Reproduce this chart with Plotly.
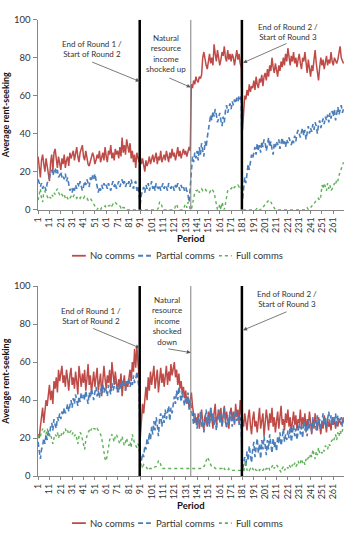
import plotly.graph_objects as go

# ---------------- data ----------------
periods = list(range(1, 271))
tick_vals = list(range(1, 270, 10))
tick_text = [str(v) for v in tick_vals]
round_ends = [90.5, 180.5]
shock_period = 135.5
series_names = ["No comms", "Partial comms", "Full comms"]

top_no_comms = [
    28, 22, 17, 26, 29, 24, 20, 27, 23, 18,
    15, 25, 29, 20, 30, 32, 26, 22, 28, 25,
    21, 27, 24, 29, 22, 26, 28, 23, 30, 27,
    29, 31, 26, 30, 33, 28, 25, 30, 32, 34,
    28, 26, 31, 27, 24, 23, 25, 27, 30, 28,
    24, 26, 29, 27, 31, 25, 28, 30, 26, 33,
    28, 25, 31, 29, 34, 27, 30, 26, 32, 29,
    31, 27, 33, 28, 38, 30, 34, 29, 37, 33,
    30, 35, 27, 31, 25, 29, 22, 30, 27, 25,
    28, 24, 27, 22, 20, 26, 23, 25, 28, 24,
    26, 29, 25, 27, 30, 24, 28, 26, 31, 25,
    27, 29, 26, 31, 28, 25, 30, 27, 32, 28,
    30, 26, 29, 33, 28, 31, 27, 30, 32, 29,
    31, 28, 30, 33, 31,
    66, 64, 68, 66, 70,
    68, 67, 70, 69, 71, 80, 83, 78, 76, 74,
    79, 82, 77, 80, 76, 87, 82, 78, 84, 80,
    76, 79, 83, 81, 86, 80, 78, 84, 79, 82,
    78, 82, 80, 76, 81, 84, 79, 82, 77, 75,
    42, 55, 60, 58, 63, 60, 66, 62, 65, 64,
    68, 63, 70, 66, 64, 69, 67, 71, 65, 70,
    72, 68, 74, 70, 76, 73, 80, 75, 72, 77,
    74, 70, 76, 73, 78, 75, 80, 76, 82, 78,
    85, 79, 76, 81, 78, 83, 77, 80, 75, 79,
    82, 77, 74, 80, 78, 83, 76, 72, 79, 75,
    70, 76, 73, 79, 84, 77, 73, 68, 75, 80,
    76, 79, 74, 78, 81, 76, 79, 77, 83, 78,
    76, 80, 78, 77, 79, 82, 86, 80, 78, 77,
]

top_partial_comms = [
    16, 13, 12, 14, 11, 13, 12, 10, 14, 15,
    17, 19, 21, 18, 20, 22, 19, 21, 17, 18,
    20, 17, 18, 16, 19, 15, 17, 12, 10, 11,
    9, 12, 10, 13, 11, 14, 12, 15, 13, 10,
    12, 15, 13, 16, 14, 12, 17, 15, 18, 16,
    19, 15, 11, 9, 12, 10, 13, 11, 14, 12,
    13, 11, 14, 12, 10, 13, 15, 12, 14, 11,
    13, 15, 12, 14, 16, 13, 15, 12, 14, 13,
    15, 12, 16, 13, 11, 14, 15, 10, 12, 8,
    3, 8, 10, 12, 9, 13, 11, 14, 10, 12,
    15, 11, 13, 10, 14, 12, 11, 13, 10, 12,
    14, 11, 13, 12, 10, 14, 12, 11, 13, 12,
    10, 13, 11, 14, 12, 10, 13, 11, 12, 10,
    12, 10, 8, 4, 12,
    24, 28, 25, 30, 27,
    31, 26, 33, 29, 35, 31, 28, 36, 33, 38,
    42, 46, 50, 47, 52, 49, 53, 50, 46, 48,
    51, 47, 44, 49, 46, 52, 55, 51, 54, 56,
    53, 57, 55, 58, 56, 59, 57, 60, 58, 60,
    5, 12, 17, 14, 20, 24, 21, 26, 29, 27,
    30, 33, 29, 35, 31, 34, 30, 36, 33, 37,
    35, 31, 34, 38, 33, 36, 32, 29, 35, 33,
    36, 34, 37, 32, 35, 38, 34, 36, 33, 37,
    35, 38, 36, 34, 37, 35, 39, 36, 40, 42,
    40, 38, 41, 43, 39, 42, 37, 41, 44, 40,
    43, 41, 45, 42, 46, 44, 40, 45, 47, 43,
    46, 48, 45, 49, 47, 50, 46, 51, 48, 52,
    49, 53, 47, 51, 54, 50, 52, 55, 51, 53,
]

top_full_comms = [
    5, 8, 11, 6, 4, 9, 10, 8, 7, 6,
    7, 6, 8, 7, 9, 8, 10, 11, 9, 8,
    9, 8, 7, 8, 6, 7, 6, 5, 6, 7,
    6, 7, 8, 7, 6, 7, 7, 6, 7, 6,
    6, 7, 6, 6, 5, 6, 6, 5, 4, 3,
    2, 1, 0, 1, 0, 0, 1, 1, 1, 2,
    1, 2, 2, 2, 3, 2, 3, 3, 4, 3,
    3, 2, 2, 1, 2, 1, 1, 1, 0, 0,
    0, 0, 0, 0, 0, 0, 0, 0, 0, 0,
    0, 0, 0, 0, 0, 0, 0, 0, 0, 0,
    0, 0, 0, 0, 0, 0, 1, 4, 4, 1,
    0, 0, 0, 0, 0, 0, 0, 0, 0, 0,
    0, 2, 3, 1, 0, 0, 0, 0, 0, 2,
    3, 1, 4, 3, 0,
    0, 3, 6, 9, 10,
    10, 11, 9, 10, 11, 10, 10, 11, 10, 10,
    10, 9, 10, 11, 10, 9, 6, 2, 0, 0,
    3, 0, 4, 2, 0, 3, 7, 10, 10, 11,
    11, 12, 11, 12, 12, 12, 13, 12, 13, 12,
    0, 0, 0, 0, 0, 0, 0, 0, 0, 0,
    0, 0, 0, 1, 0, 0, 0, 1, 1, 2,
    3, 4, 4, 5, 4, 4, 3, 2, 1, 0,
    0, 0, 0, 0, 0, 0, 0, 0, 0, 0,
    0, 0, 0, 0, 0, 0, 0, 0, 0, 0,
    0, 0, 0, 0, 0, 0, 0, 1, 0, 0,
    1, 2, 2, 3, 4, 5, 5, 6, 5, 7,
    13, 11, 14, 12, 10, 14, 11, 13, 10, 11,
    12, 14, 13, 16, 15, 18, 20, 21, 23, 25,
]

bottom_no_comms = [
    22, 20, 26, 30, 36, 28, 33, 40, 37, 44,
    48, 40, 45, 38, 50, 46, 52, 44, 56, 50,
    55, 58, 49, 53, 47, 56, 51, 45, 53, 57,
    48, 52, 46, 55, 50, 43, 58, 52, 47, 54,
    49, 56, 45, 51, 59, 48, 53, 44, 50, 55,
    47, 52, 57, 45, 50, 54, 42, 49, 58, 51,
    46, 53, 49, 56, 45, 60, 52, 48, 55, 50,
    44, 51, 47, 54, 42, 49, 53, 45, 50, 47,
    52, 56, 50, 60, 55, 67, 57, 68, 60, 52,
    20, 30, 38, 33, 42, 47, 40, 52, 45, 55,
    48, 53, 58, 46, 51, 56, 44, 50, 57, 49,
    54, 47, 52, 58, 48, 55, 50, 59, 53, 57,
    60, 52, 56, 48, 54, 46, 50, 43, 47, 41,
    45, 38, 42, 36, 40,
    44, 37, 33, 28, 31,
    27, 33, 25, 30, 35, 28, 24, 32, 29, 26,
    34, 28, 36, 30, 25, 33, 38, 27, 31, 35,
    29, 36, 26, 32, 37, 28, 34, 30, 25, 33,
    36, 29, 34, 27, 38, 31, 35, 28, 40, 33,
    30, 26, 33, 28, 24, 31, 35, 27, 22, 30,
    34, 26, 29, 23, 32, 36, 25, 28, 33, 21,
    27, 35, 30, 24, 33, 28, 36, 26, 31, 23,
    29, 34, 25, 32, 37, 27, 30, 24, 33, 28,
    35, 26, 31, 23, 29, 34, 27, 32, 24, 30,
    28, 35, 25, 31, 27, 33, 23, 30, 26, 34,
    28, 22, 30, 25, 33, 27, 24, 31, 26, 22,
    29, 25, 32, 27, 23, 30, 26, 28, 24, 31,
    27, 30, 25, 29, 26, 30, 28, 27, 29, 31,
]

bottom_partial_comms = [
    18, 12, 9, 14, 16, 20, 17, 22, 19, 24,
    21, 26, 28, 24, 30, 27, 25, 31, 29, 33,
    30, 34, 32, 36, 33, 35, 38, 34, 37, 40,
    36, 41, 38, 43, 40, 37, 42, 39, 44, 41,
    43, 40, 45, 42, 38, 44, 41, 46, 43, 40,
    44, 47, 42, 45, 41, 46, 43, 48, 44, 47,
    45, 42, 48, 46, 43, 49, 45, 47, 50, 46,
    48, 44, 49, 46, 51, 47, 49, 45, 50, 48,
    52, 47, 50, 48, 53, 49, 51, 55, 50, 46,
    4, 8, 12, 10, 16, 14, 20, 17, 23, 19,
    26, 22, 29, 24, 31, 27, 21, 30, 33, 26,
    32, 28, 35, 30, 34, 37, 29, 36, 33, 39,
    42, 38, 45, 40, 47, 43, 39, 44, 41, 37,
    42, 38, 44, 35, 40,
    36, 30, 27, 33, 29,
    25, 31, 28, 34, 26, 30, 23, 29, 35, 27,
    32, 26, 36, 29, 33, 27, 31, 24, 30, 35,
    28, 33, 26, 31, 36, 29, 25, 32, 27, 34,
    30, 26, 33, 28, 35, 29, 32, 27, 31, 25,
    3, 6, 10, 5, 13, 8, 16, 11, 7, 14,
    18, 10, 15, 20, 12, 17, 9, 19, 14, 21,
    16, 11, 19, 14, 22, 17, 12, 20, 15, 18,
    13, 21, 17, 23, 16, 20, 25, 18, 22, 19,
    24, 20, 26, 18, 23, 27, 21, 25, 19, 24,
    28, 22, 26, 20, 29, 24, 27, 21, 30, 25,
    28, 23, 31, 26, 29, 24, 32, 27, 30, 25,
    29, 33, 27, 31, 26, 30, 34, 28, 32, 27,
    31, 29, 33, 27, 32, 30, 28, 31, 26, 30,
]

bottom_full_comms = [
    20, 22, 21, 24, 25, 23, 24, 22, 25, 23,
    21, 22, 19, 17, 20, 22, 21, 23, 20, 22,
    21, 23, 22, 24, 25, 23, 24, 22, 23, 24,
    22, 23, 21, 22, 20, 17, 21, 23, 22, 19,
    16, 14, 19, 22, 23, 24, 23, 25, 24, 25,
    25, 24, 25, 24, 23, 22, 20, 16, 12, 9,
    8, 11, 15, 19, 21, 22, 20, 18, 21, 22,
    20, 18, 17, 19, 21, 18, 16, 18, 20, 17,
    16, 18, 15, 22, 19, 17, 16, 15, 17, 15,
    7, 6, 5, 6, 5, 5, 4, 5, 4, 4,
    4, 4, 4, 5, 5, 6, 8, 8, 5, 4,
    4, 4, 4, 4, 4, 4, 4, 4, 4, 4,
    4, 4, 4, 4, 4, 4, 4, 4, 4, 4,
    4, 4, 4, 4, 4,
    4, 4, 4, 4, 4,
    4, 4, 4, 4, 4, 4, 5, 6, 8, 10,
    9, 7, 6, 5, 5, 5, 4, 4, 4, 4,
    4, 4, 4, 3, 4, 3, 3, 3, 4, 3,
    3, 3, 3, 3, 3, 3, 3, 3, 3, 3,
    6, 2, 5, 8, 3, 4, 3, 4, 3, 4,
    3, 4, 3, 3, 4, 3, 4, 3, 3, 4,
    3, 4, 4, 5, 3, 4, 5, 6, 4, 5,
    6, 5, 4, 3, 2, 4, 5, 3, 4, 5,
    4, 6, 5, 4, 6, 5, 7, 5, 6, 8,
    6, 7, 9, 7, 8, 6, 9, 8, 10, 9,
    12, 10, 14, 11, 9, 13, 11, 15, 12, 13,
    12, 14, 13, 16, 15, 14, 17, 16, 18, 19,
    18, 20, 22, 19, 23, 21, 24, 22, 25, 26,
]

for arr in [top_no_comms, top_partial_comms, top_full_comms,
            bottom_no_comms, bottom_partial_comms, bottom_full_comms]:
    assert len(arr) == 270, len(arr)

# ---------------- style ----------------
W, H = 350, 534
FONT = "Lato, 'Liberation Sans', sans-serif"
TXT = "#333333"
AX = "#868686"
colors = ["#BE4B48", "#4A7EBB", "#5DB256"]
dashes = ["solid", "5px,3px", "dot"]
widths = [1.5, 1.6, 1.4]


def px(xp):
    return xp / W


def py(yp):
    return 1 - yp / H


fig = go.Figure()

panels = [
    ("x", "y", [top_no_comms, top_partial_comms, top_full_comms]),
    ("x2", "y2", [bottom_no_comms, bottom_partial_comms, bottom_full_comms]),
]
for xa, ya, data in panels:
    for name, vals, c, d, w in zip(series_names, data, colors, dashes, widths):
        fig.add_trace(go.Scatter(
            x=periods, y=vals, mode="lines", name=name,
            line=dict(color=c, dash=d, width=w),
            xaxis=xa, yaxis=ya, showlegend=False,
            hovertemplate="Period %{x}: %{y}<extra>" + name + "</extra>",
        ))

xdom = [px(33), px(344)]
ydoms = [[py(208), py(14)], [py(480), py(286)]]


def xaxis_cfg(anchor):
    return dict(
        domain=xdom, anchor=anchor, range=[0.5, 270.5],
        tickmode="array", tickvals=tick_vals, ticktext=tick_text,
        tickangle=-90, tickfont=dict(family=FONT, size=9, color=TXT),
        showline=True, linecolor=AX, linewidth=1,
        ticks="outside", ticklen=3, tickcolor=AX,
        showgrid=False, zeroline=False,
        title=dict(text="<b>Period</b>", font=dict(family=FONT, size=9.5, color="#111"),
                   standoff=3),
    )


def yaxis_cfg(anchor, dom):
    return dict(
        domain=dom, anchor=anchor, range=[0, 100],
        tickmode="array", tickvals=[0, 20, 40, 60, 80, 100],
        tickfont=dict(family=FONT, size=9.5, color=TXT),
        showline=True, linecolor=AX, linewidth=1,
        ticks="outside", ticklen=4, tickcolor=AX,
        showgrid=False, zeroline=False,
        title=dict(text="<b>Average rent-seeking</b>",
                   font=dict(family=FONT, size=9, color="#111"), standoff=3),
    )


shapes = []
annotations = []

for xa, ya in [("x", "y"), ("x2", "y2")]:
    for xe in round_ends:
        shapes.append(dict(type="line", xref=xa, yref=ya, x0=xe, x1=xe, y0=0, y1=100,
                           line=dict(color="black", width=2.5), layer="above"))
    shapes.append(dict(type="line", xref=xa, yref=ya, x0=shock_period, x1=shock_period,
                       y0=0, y1=100, line=dict(color="#7F7F7F", width=1), layer="above"))

# text labels (pixel positions)
labels = [
    ("End of Round 1 /<br>Start of Round 2", 88, 44),
    ("Natural<br>resource<br>income<br>shocked up", 163, 49),
    ("End of Round 2 /<br>Start of Round 3", 287, 27),
    ("End of Round 1 /<br>Start of Round 2", 87, 317),
    ("Natural<br>resource<br>income<br>shocked<br>down", 164, 322),
    ("End of Round 2 /<br>Start of Round 3", 286, 299),
]
for t, xp, yp in labels:
    annotations.append(dict(text=t, xref="paper", yref="paper", x=px(xp), y=py(yp),
                            xanchor="center", yanchor="middle", showarrow=False,
                            font=dict(family=FONT, size=8, color=TXT), align="center"))

# arrows: head in data coords, tail offset in pixels
arrows = [
    ("x", "y", 90.5, 67.5, -49, -20),
    ("x", "y", 135.5, 64.4, -23, -10),
    ("x", "y", 181.5, 77.3, 45, -20),
    ("x2", "y2", 90.5, 67.5, -48, -20),
    ("x2", "y2", 135.5, 65.0, -24, -4),
    ("x2", "y2", 181.5, 76.8, 45, -19),
]
for xa, ya, x, y, ax, ay in arrows:
    annotations.append(dict(text="", xref=xa, yref=ya, x=x, y=y, ax=ax, ay=ay,
                            showarrow=True, arrowhead=2, arrowsize=1, arrowwidth=0.8,
                            arrowcolor="#595959"))

# legends (one per panel)
legend_items = [(68, 82, 84), (135, 148, 151), (217, 230, 232)]
for ly in [255, 528]:
    for (x0, x1, xt), name, c, d, w in zip(legend_items, series_names, colors, dashes, widths):
        shapes.append(dict(type="line", xref="paper", yref="paper",
                           x0=px(x0), x1=px(x1), y0=py(ly), y1=py(ly),
                           line=dict(color=c, width=w + 0.3, dash=d)))
        annotations.append(dict(text=name, xref="paper", yref="paper", x=px(xt), y=py(ly),
                                xanchor="left", yanchor="middle", showarrow=False,
                                font=dict(family=FONT, size=9.5, color=TXT)))

fig.update_layout(
    width=W, height=H, autosize=False,
    margin=dict(l=0, r=0, t=0, b=0),
    paper_bgcolor="white", plot_bgcolor="white",
    font=dict(family=FONT, color=TXT),
    showlegend=False,
    xaxis=xaxis_cfg("y"), yaxis=yaxis_cfg("x", ydoms[0]),
    xaxis2=xaxis_cfg("y2"), yaxis2=yaxis_cfg("x2", ydoms[1]),
    shapes=shapes, annotations=annotations,
)

fig.write_html("out.html")
